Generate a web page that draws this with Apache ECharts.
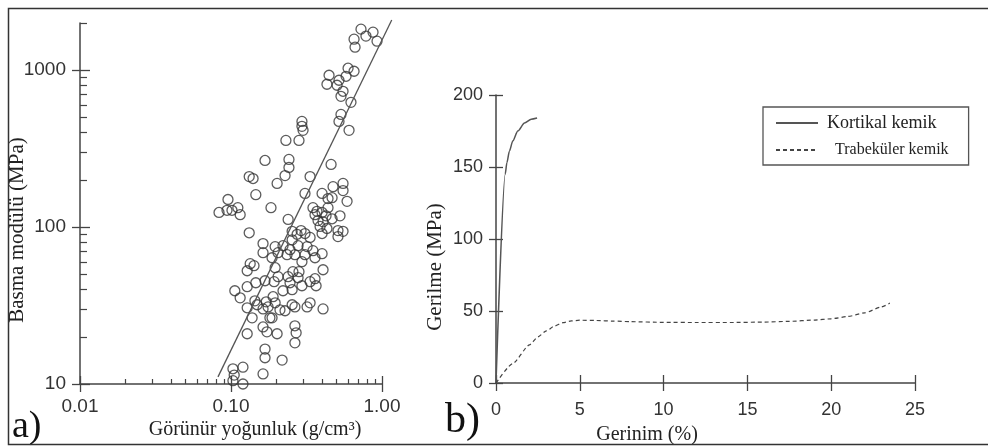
<!DOCTYPE html>
<html>
<head>
<meta charset="utf-8">
<script src="https://cdn.jsdelivr.net/npm/echarts@6/dist/echarts.min.js"></script>
<style>
  html, body { margin: 0; padding: 0; background: #fff; }
  #chart { width: 988px; height: 448px; }
</style>
</head>
<body>
<div id="chart"></div>
<script>
// a) apparent density (g/cm3) vs compressive modulus (MPa)
const density = [
  0.726, 0.783, 0.872, 0.927, 0.653, 0.663, 0.446, 0.432, 0.519, 0.504, 0.596, 0.653,
  0.578, 0.552, 0.535, 0.623, 0.535, 0.519, 0.605, 0.295, 0.295, 0.300, 0.231, 0.282,
  0.168, 0.132, 0.140, 0.202, 0.146, 0.0955, 0.0833, 0.0941, 0.1015, 0.111, 0.115, 0.184,
  0.132, 0.163, 0.196,
  0.242, 0.242, 0.228, 0.334, 0.460, 0.309, 0.474, 0.552, 0.552, 0.587, 0.401, 0.439,
  0.467, 0.349, 0.371, 0.439, 0.401, 0.360, 0.426, 0.467, 0.527, 0.377, 0.407, 0.389,
  0.432, 0.401, 0.511, 0.552, 0.511, 0.239, 0.254, 0.291, 0.334, 0.309, 0.274,
  0.254, 0.221, 0.246, 0.278, 0.319, 0.349, 0.401, 0.205, 0.235, 0.265, 0.187, 0.196,
  0.295, 0.309, 0.360, 0.407, 0.193, 0.205, 0.239, 0.246, 0.257, 0.278, 0.282, 0.221,
  0.254, 0.295, 0.334, 0.360, 0.366, 0.190, 0.196, 0.211, 0.228, 0.254, 0.265, 0.319,
  0.334, 0.407, 0.187, 0.265, 0.270, 0.202, 0.265, 0.218,
  0.163, 0.134, 0.142, 0.128, 0.106, 0.115, 0.128, 0.146, 0.168, 0.144, 0.171, 0.149,
  0.128, 0.163, 0.176, 0.138, 0.181, 0.163, 0.173, 0.128, 0.168, 0.168, 0.120, 0.103,
  0.105, 0.103, 0.120, 0.163
];
const modulus = [
  1828, 1650, 1749, 1532, 1578, 1403, 929, 814, 863, 802, 1030, 985,
  915, 734, 682, 624, 523, 472, 414, 472, 439, 414, 357, 357,
  266, 210, 204, 190, 161, 150, 124, 128, 128, 133, 120, 133,
  92, 78.5, 75.1,
  270, 240, 213, 210, 251, 164, 181, 190, 171, 146, 164, 152,
  154, 133, 126, 133, 124, 120, 118, 113, 118, 110, 108, 101,
  98, 91, 95, 94, 87, 112, 94, 95, 86, 91, 90,
  83, 76.2, 71.8, 76.2, 75.1, 70.8, 67.7, 68.7, 66.7, 66.7, 63.8, 55.1,
  60.2, 66.7, 63.8, 53.5, 44.9, 48.3, 48.3, 44.2, 52.0, 47.6, 52.0, 39.3,
  39.9, 42.3, 44.9, 46.9, 42.3, 36.0, 32.9, 29.7, 29.3, 32.0, 31.0, 31.0,
  32.9, 30.1, 26.4, 23.5, 21.2, 20.9, 18.3, 14.2,
  68.7, 58.5, 56.8, 52.7, 39.3, 35.4, 41.7, 44.2, 45.5, 33.9, 33.4, 32.0,
  30.6, 30.1, 31.0, 26.4, 26.4, 23.1, 21.5, 20.9, 16.7, 14.7, 12.8, 12.5,
  11.4, 10.5, 10.0, 11.6
];
// regression line end points (it runs a little past the axes)
const fitDensity = [0.082, 1.16];
const fitModulus = [11.1, 2090];

const densityMajor = [0.01, 0.1, 1];
const densityMinor = [0.02, 0.03, 0.04, 0.05, 0.06, 0.07, 0.08, 0.09,
  0.2, 0.3, 0.4, 0.5, 0.6, 0.7, 0.8, 0.9];
const modulusMajor = [10, 100, 1000];
const modulusMinor = [20, 30, 40, 50, 60, 70, 80, 90,
  200, 300, 400, 500, 600, 700, 800, 900, 2000];

// b) stress-strain curves
const corticalStrain = [0, 0.55, 0.65, 0.8, 1.0, 1.3, 1.7, 2.1, 2.45];
const corticalStress = [0, 145, 153, 161, 168, 175, 180.5, 183.2, 184];
const trabStrain = [0, 1, 2, 2.5, 3, 3.5, 4, 4.5, 5, 6, 7, 8, 10, 12, 14, 16, 17.5, 19, 20, 21, 22, 23, 23.5];
const trabStress = [0, 13.5, 26.5, 32, 36.2, 39.6, 41.9, 43.1, 43.6, 43.4, 43, 42.6, 42.1, 42, 42, 42.3, 42.8, 43.7, 44.6, 46.2, 48.7, 52.8, 55.5];
const seriesNames = ['Kortikal kemik', 'Trabeküler kemik'];

const SANS = '"Liberation Sans", Arial, sans-serif';
const SERIF = '"Liberation Serif", "Times New Roman", serif';
const AXIS_COLOR = '#444';

const chart = echarts.init(document.getElementById('chart'));

function tickAxis(base, opts) {
  return Object.assign({
    splitLine: { show: false },
    axisLine: { show: false },
    axisLabel: { show: false },
    axisTick: { show: true, lineStyle: { color: AXIS_COLOR, width: 1.3 } },
    silent: true
  }, base, opts);
}

const xLog = { gridIndex: 0, type: 'log', min: 0.01, max: 1, position: 'bottom' };
const yLog = { gridIndex: 0, type: 'log', min: 10, max: 2000, position: 'left' };
const xLin = { gridIndex: 1, type: 'value', min: 0, max: 25, interval: 5, position: 'bottom' };
const yLin = { gridIndex: 1, type: 'value', min: 0, max: 200, interval: 50, position: 'left' };

// grid 2 shares the log scales of grid 0 (151 px and 156.9 px per decade)
// but reaches the fit line's end so the line is not cut at the axis
const decX = 302 / 2, decY = 361 / Math.log10(2000 / 10);
const fitW = decX * Math.log10(fitDensity[1] / 0.01);
const fitH = decY * Math.log10(fitModulus[1] / 10);

const option = {
  animation: false,
  backgroundColor: '#fff',
  grid: [
    { left: 80, top: 23, width: 302, height: 361 },
    { left: 496, top: 95, width: 419, height: 288 },
    { left: 80, top: 384 - fitH, width: fitW, height: fitH, show: false }
  ],
  xAxis: [
    tickAxis(xLog, {
      axisLine: { show: true, lineStyle: { color: AXIS_COLOR, width: 1.5 } },
      axisTick: { show: true, inside: true, length: 5, customValues: densityMinor,
        lineStyle: { color: AXIS_COLOR, width: 1.2 } },
      axisLabel: { show: true, customValues: densityMajor, margin: 13,
        fontFamily: SANS, fontSize: 19, color: '#333',
        formatter: v => Number(v).toFixed(2) }
    }),
    tickAxis(xLog, { axisTick: { show: true, inside: false, length: 8, customValues: densityMajor,
      lineStyle: { color: AXIS_COLOR, width: 1.3 } } }),
    tickAxis(xLog, { axisTick: { show: true, inside: true, length: 8, customValues: densityMajor,
      lineStyle: { color: AXIS_COLOR, width: 1.3 } } }),
    tickAxis(xLin, {
      axisLine: { show: true, lineStyle: { color: AXIS_COLOR, width: 1.5 } },
      axisTick: { show: true, inside: true, length: 8, lineStyle: { color: AXIS_COLOR, width: 1.3 } },
      axisLabel: { show: true, margin: 18, fontFamily: SANS, fontSize: 18, color: '#333' }
    }),
    tickAxis(xLin, { axisTick: { show: true, inside: false, length: 8,
      lineStyle: { color: AXIS_COLOR, width: 1.3 } } }),
    { gridIndex: 2, type: 'log', min: 0.01, max: fitDensity[1], show: false }
  ],
  yAxis: [
    tickAxis(yLog, {
      axisLine: { show: true, lineStyle: { color: AXIS_COLOR, width: 1.5 } },
      axisTick: { show: true, inside: true, length: 7, customValues: modulusMinor,
        lineStyle: { color: AXIS_COLOR, width: 1.2 } },
      axisLabel: { show: true, customValues: modulusMajor, margin: 14,
        fontFamily: SANS, fontSize: 19, color: '#333',
        formatter: v => String(Math.round(v)) }
    }),
    tickAxis(yLog, { axisTick: { show: true, inside: false, length: 8, customValues: modulusMajor,
      lineStyle: { color: AXIS_COLOR, width: 1.3 } } }),
    tickAxis(yLog, { axisTick: { show: true, inside: true, length: 10, customValues: modulusMajor,
      lineStyle: { color: AXIS_COLOR, width: 1.3 } } }),
    tickAxis(yLin, {
      axisLine: { show: true, lineStyle: { color: AXIS_COLOR, width: 1.5 } },
      axisTick: { show: true, inside: true, length: 7, lineStyle: { color: AXIS_COLOR, width: 1.3 } },
      axisLabel: { show: true, margin: 13, fontFamily: SANS, fontSize: 18, color: '#333' }
    }),
    tickAxis(yLin, { axisTick: { show: true, inside: false, length: 7,
      lineStyle: { color: AXIS_COLOR, width: 1.3 } } }),
    { gridIndex: 2, type: 'log', min: 10, max: fitModulus[1], show: false }
  ],
  legend: {
    data: [
      { name: seriesNames[0], textStyle: { fontSize: 18, padding: [0, 0, 0, 4] } },
      { name: seriesNames[1], textStyle: { fontSize: 16, padding: [0, 0, 0, 12] } }
    ],
    left: 763, top: 107,
    orient: 'vertical',
    padding: [7, 20, 7, 12],
    itemWidth: 42, itemHeight: 14, itemGap: 10,
    itemStyle: { opacity: 0 },
    borderColor: '#555', borderWidth: 1.3,
    selectedMode: false,
    textStyle: { fontFamily: SERIF, color: '#222' }
  },
  graphic: [
    { type: 'rect', silent: true, z: 100,
      shape: { x: 8.5, y: 8.5, width: 1000, height: 436 },
      style: { fill: 'none', stroke: '#333', lineWidth: 1.5 } },
    { type: 'text', x: 17, y: 230, rotation: Math.PI / 2,
      style: { text: 'Basma modülü (MPa)', font: '21px ' + SERIF, fill: '#222',
        textAlign: 'center', textVerticalAlign: 'middle' } },
    { type: 'text', x: 255, y: 430,
      style: { text: 'Görünür yoğunluk (g/cm³)', font: '20px ' + SERIF, fill: '#222',
        textAlign: 'center', textVerticalAlign: 'middle' } },
    { type: 'text', x: 435, y: 267, rotation: Math.PI / 2,
      style: { text: 'Gerilme (MPa)', font: '21px ' + SERIF, fill: '#222',
        textAlign: 'center', textVerticalAlign: 'middle' } },
    { type: 'text', x: 647, y: 435,
      style: { text: 'Gerinim (%)', font: '20px ' + SERIF, fill: '#222',
        textAlign: 'center', textVerticalAlign: 'middle' } },
    { type: 'text', x: 12, y: 446,
      style: { text: 'a)', font: '38px ' + SERIF, fill: '#111',
        textAlign: 'left', textVerticalAlign: 'bottom' } },
    { type: 'text', x: 445, y: 442,
      style: { text: 'b)', font: '42px ' + SERIF, fill: '#111',
        textAlign: 'left', textVerticalAlign: 'bottom' } }
  ],
  series: [
    {
      type: 'scatter', xAxisIndex: 0, yAxisIndex: 0,
      symbol: 'circle', symbolSize: 10,
      itemStyle: { color: 'rgba(255,255,255,0)', borderColor: '#333', borderWidth: 1.3 },
      data: density.map((d, i) => [d, modulus[i]])
    },
    {
      type: 'line', xAxisIndex: 5, yAxisIndex: 5, clip: false,
      symbol: 'none', lineStyle: { color: '#555', width: 1.3 },
      data: fitDensity.map((d, i) => [d, fitModulus[i]])
    },
    {
      name: seriesNames[0], type: 'line', xAxisIndex: 3, yAxisIndex: 3,
      symbol: 'none', smooth: 0.25, smoothMonotone: 'x',
      lineStyle: { color: '#555', width: 1.5 },
      itemStyle: { color: '#555' },
      data: corticalStrain.map((s, i) => [s, corticalStress[i]])
    },
    {
      name: seriesNames[1], type: 'line', xAxisIndex: 3, yAxisIndex: 3,
      symbol: 'none', smooth: 0.2, smoothMonotone: 'x',
      lineStyle: { color: '#444', width: 1.2, type: [4, 3] },
      itemStyle: { color: '#444' },
      data: trabStrain.map((s, i) => [s, trabStress[i]])
    }
  ]
};

chart.setOption(option);
</script>
</body>
</html>
